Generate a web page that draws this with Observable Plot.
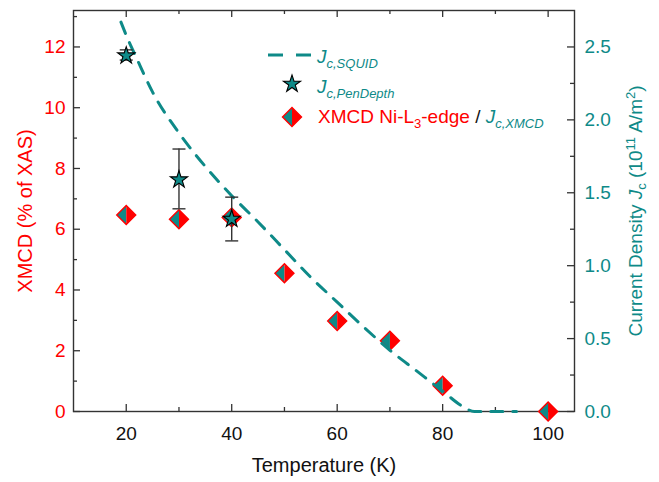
<!DOCTYPE html>
<html><head><meta charset="utf-8">
<script src="https://cdn.jsdelivr.net/npm/d3@7"></script>
<script src="https://cdn.jsdelivr.net/npm/@observablehq/plot@0.6"></script>
<style>body{margin:0;background:#fff;} #chart{width:659px;height:482px;}</style>
</head><body><div id="chart"></div>
<script>
// ---- data ----
const ratio = 4.8; // XMCD (% of XAS) per 1e11 A/m^2 (left vs right axis)
const xmcdT = [20, 30, 40, 50, 60, 70, 80, 100];
const xmcdVal = [6.47, 6.33, 6.39, 4.55, 2.98, 2.33, 0.85, 0];
const penT = [20, 30, 40];
const penJc = [2.44, 1.59, 1.32];
const penJcLo = [2.41, 1.39, 1.17];
const penJcHi = [2.48, 1.80, 1.47];
const squidT = [19, 20, 22, 25, 30, 35, 40, 45, 50, 55, 60, 65, 70, 75, 80, 84, 86, 94];
const squidJc = [2.67, 2.58, 2.42, 2.19, 1.91, 1.68, 1.48, 1.30, 1.11, 0.92, 0.75, 0.58, 0.42, 0.28, 0.14, 0.03, 0, 0];
const xTicks = [20, 40, 60, 80, 100];
const xMinor = [30, 50, 70, 90];
const leftTicks = [0, 2, 4, 6, 8, 10, 12];
const leftMinor = [1, 3, 5, 7, 9, 11, 13];
const rightTicks = [0, 0.5, 1.0, 1.5, 2.0, 2.5];
const rightMinor = [0.25, 0.75, 1.25, 1.75, 2.25];

const TEAL = "#0e8a88", RED = "#ff0000", AX = "#333";
const FONT = "'Liberation Sans', Arial, sans-serif";
const W = 659, H = 482, ML = 73, MR = 85, MT = 10, MB = 71;
const IW = W - ML - MR, IH = H - MT - MB;

const xmcd = xmcdT.map((T, i) => ({T, v: xmcdVal[i]}));
const pen = penT.map((T, i) => ({T, jc: penJc[i], lo: penJcLo[i], hi: penJcHi[i]}));
const squid = squidT.map((T, i) => ({T, jc: squidJc[i]}));

// custom symbols
const rad = s => Math.sqrt(s / Math.PI);
const halfL = {draw(c, s) {const h = rad(s); c.moveTo(0, -h); c.lineTo(-h, 0); c.lineTo(0, h); c.closePath();}};
const halfR = {draw(c, s) {const h = rad(s); c.moveTo(0, -h); c.lineTo(h, 0); c.lineTo(0, h); c.closePath();}};
const diam = {draw(c, s) {const h = rad(s); c.moveTo(0, -h); c.lineTo(h, 0); c.lineTo(0, h); c.lineTo(-h, 0); c.closePath();}};
const cap = {draw(c, s) {const h = rad(s); c.moveTo(-h, 0); c.lineTo(h, 0);}};

const tk = {stroke: AX, strokeWidth: 1.3};
const chart = Plot.plot({
  width: W, height: H,
  marginLeft: ML, marginRight: MR, marginTop: MT, marginBottom: MB,
  style: {fontFamily: FONT, fontSize: "19px", background: "white"},
  x: {domain: [10, 105]},
  y: {domain: [0, 13.2]},
  marks: [
    // tick labels
    Plot.axisX(xTicks, {anchor: "bottom", tickSize: 0, tickPadding: 15, fill: "#111", label: null, fontSize: 19}),
    Plot.axisY(leftTicks, {anchor: "left", tickSize: 0, tickPadding: 8, fill: RED, label: null, fontSize: 19}),
    Plot.axisY(rightTicks.map(v => v * ratio), {anchor: "right", tickSize: 0, tickPadding: 10, fill: TEAL, label: null, fontSize: 19,
      tickFormat: d => (d / ratio).toFixed(1)}),
    // inward tick marks
    Plot.tickX(xTicks, {x: d => d, insetTop: IH - 7, ...tk}),
    Plot.tickX(xMinor, {x: d => d, insetTop: IH - 4, ...tk}),
    Plot.tickX(xTicks, {x: d => d, insetBottom: IH - 7, ...tk}),
    Plot.tickX(xMinor, {x: d => d, insetBottom: IH - 4, ...tk}),
    Plot.tickY(leftTicks, {y: d => d, insetRight: IW - 7, ...tk}),
    Plot.tickY(leftMinor, {y: d => d, insetRight: IW - 4, ...tk}),
    Plot.tickY(rightTicks, {y: d => d * ratio, insetLeft: IW - 7, ...tk}),
    Plot.tickY(rightMinor, {y: d => d * ratio, insetLeft: IW - 4, ...tk}),
    Plot.frame({stroke: AX, strokeWidth: 1.4}),
    // XMCD diamonds
    Plot.dot(xmcd, {x: "T", y: "v", symbol: halfL, r: 9.5, fill: TEAL, stroke: null}),
    Plot.dot(xmcd, {x: "T", y: "v", symbol: halfR, r: 9.5, fill: RED, stroke: null}),
    Plot.dot(xmcd, {x: "T", y: "v", symbol: diam, r: 9.5, fill: "none", stroke: RED, strokeWidth: 1.4}),
    // SQUID line
    Plot.line(squid, {x: "T", y: d => d.jc * ratio, stroke: TEAL, strokeWidth: 3, strokeDasharray: "12,10", curve: "monotone-x"}),
    // penetration depth error bars + stars
    Plot.ruleX(pen, {x: "T", y1: d => d.lo * ratio, y2: d => d.hi * ratio, stroke: AX, strokeWidth: 1.4}),
    Plot.dot(pen, {x: "T", y: d => d.hi * ratio, symbol: cap, r: 6.5, stroke: AX, strokeWidth: 1.4}),
    Plot.dot(pen, {x: "T", y: d => d.lo * ratio, symbol: cap, r: 6.5, stroke: AX, strokeWidth: 1.4}),
    Plot.dot(pen, {x: "T", y: d => d.jc * ratio, symbol: "star", r: 5.4, fill: TEAL, stroke: "#000", strokeWidth: 1.1})
  ]
});
document.getElementById("chart").appendChild(chart);

// ---- titles and legend ----
const svg = d3.select(chart);
const g = svg.append("g").attr("font-family", FONT);

g.append("text").attr("x", 324).attr("y", 472).attr("text-anchor", "middle")
  .attr("font-size", 20).attr("fill", "#111").text("Temperature (K)");

g.append("text").attr("transform", "translate(32,211) rotate(-90)").attr("text-anchor", "middle")
  .attr("font-size", 20).attr("fill", RED).text("XMCD (% of XAS)");

const rt = g.append("text").attr("transform", "translate(642,211) rotate(-90)").attr("text-anchor", "middle")
  .attr("font-size", 19).attr("fill", TEAL);
rt.append("tspan").text("Current Density ");
rt.append("tspan").attr("font-style", "italic").text("J");
rt.append("tspan").attr("font-size", 13).attr("dy", 4).text("c");
rt.append("tspan").attr("dy", -4).text(" (10");
rt.append("tspan").attr("font-size", 13).attr("dy", -7).text("11");
rt.append("tspan").attr("dy", 7).text(" A/m");
rt.append("tspan").attr("font-size", 13).attr("dy", -7).text("2");
rt.append("tspan").attr("dy", 7).text(")");

// legend
const L = g.append("g").attr("text-anchor", "start");
L.append("line").attr("x1", 268).attr("x2", 311).attr("y1", 55).attr("y2", 55)
  .attr("stroke", TEAL).attr("stroke-width", 3).attr("stroke-dasharray", "15,13");
const t1 = L.append("text").attr("x", 317).attr("y", 63).attr("font-size", 19).attr("fill", TEAL).attr("font-style", "italic");
t1.append("tspan").text("J");
t1.append("tspan").attr("font-size", 13).attr("dy", 5).text("c,SQUID");

L.append("path").attr("transform", "translate(292,84)").attr("d", d3.symbol(d3.symbolStar, 91)())
  .attr("fill", TEAL).attr("stroke", "#000").attr("stroke-width", 1.1);
const t2 = L.append("text").attr("x", 317).attr("y", 93).attr("font-size", 19).attr("fill", TEAL).attr("font-style", "italic");
t2.append("tspan").text("J");
t2.append("tspan").attr("font-size", 13).attr("dy", 5).text("c,PenDepth");

const h = 9.5;
L.append("path").attr("transform", "translate(292,117)").attr("d", `M0,${-h}L${-h},0L0,${h}Z`).attr("fill", TEAL);
L.append("path").attr("transform", "translate(292,117)").attr("d", `M0,${-h}L${h},0L0,${h}Z`).attr("fill", RED);
L.append("path").attr("transform", "translate(292,117)").attr("d", `M0,${-h}L${h},0L0,${h}L${-h},0Z`)
  .attr("fill", "none").attr("stroke", RED).attr("stroke-width", 1.4);
const t3 = L.append("text").attr("x", 318).attr("y", 123).attr("font-size", 19).attr("fill", RED);
t3.append("tspan").text("XMCD Ni-L");
t3.append("tspan").attr("font-size", 13).attr("dy", 5).text("3");
t3.append("tspan").attr("dy", -5).text("-edge ");
t3.append("tspan").attr("fill", "#111").text("/ ");
t3.append("tspan").attr("fill", TEAL).attr("font-style", "italic").text("J");
t3.append("tspan").attr("fill", TEAL).attr("font-style", "italic").attr("font-size", 13).attr("dy", 5).text("c,XMCD");
</script>
</body></html>
